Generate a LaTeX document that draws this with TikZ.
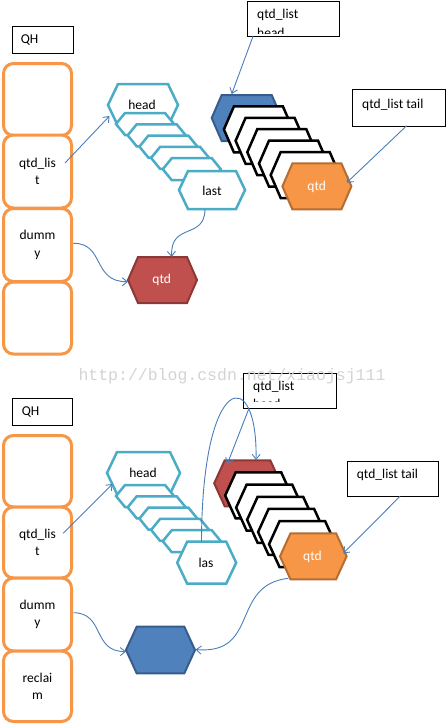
\documentclass[tikz,border=0pt]{standalone}
\usepackage{fontspec}
\setmainfont{Carlito}
\newfontfamily\wmfont{Liberation Mono}
\usetikzlibrary{arrows.meta}
\definecolor{orgbox}{HTML}{F79646}
\definecolor{cyanline}{HTML}{4BACC6}
\definecolor{bluefill}{HTML}{4F81BD}
\definecolor{blueline}{HTML}{385D8A}
\definecolor{redfill}{HTML}{C0504D}
\definecolor{redline}{HTML}{8C3836}
\definecolor{orgfill}{HTML}{F79646}
\definecolor{orgline}{HTML}{B66D31}
\definecolor{arrowc}{HTML}{4A7EBB}
\definecolor{wmgray}{RGB}{212,212,212}
\newcommand{\hexpath}[5]{(#1-#3,#2) -- (#1-#3+#5,#2-#4) -- (#1+#3-#5,#2-#4) -- (#1+#3,#2) -- (#1+#3-#5,#2+#4) -- (#1-#3+#5,#2+#4) -- cycle}
\begin{document}
\begin{tikzpicture}[x=1pt,y=-1pt,
  txt/.style={font=\fontsize{13.5}{17.5}\selectfont, inner sep=0pt},
  cyanhex/.style={draw=cyanline, line width=2.5pt, fill=white},
  blackhex/.style={draw=black, line width=2.5pt, fill=white},
  bluehex/.style={draw=blueline, line width=2pt, fill=bluefill},
  redhex/.style={draw=redline, line width=2pt, fill=redfill},
  orghex/.style={draw=orgline, line width=2pt, fill=orgfill},
  qbox/.style={draw=orgbox, line width=3pt, rounded corners=10pt, fill=white, minimum width=68pt, inner sep=0pt, align=center, font=\fontsize{13.5}{17.5}\selectfont},
  lbox/.style={draw=black, line width=0.8pt, fill=white, inner sep=0pt, anchor=north west},
  conn/.style={draw=arrowc, line width=0.9pt, -{Straight Barb[length=5pt,width=8pt]}}]
\useasboundingbox (0,0) rectangle (446,726);
\fill[white] (0,0) rectangle (446,726);

% ================= TOP =================
\node[lbox, minimum width=61pt, minimum height=27pt] (tqh) at (12,26) {};
\node[txt, anchor=west] (tqht) at (20.7,40) {QH};
\node[qbox, minimum height=72pt] (t1) at (37.5,99.5) {};
\node[qbox, minimum height=73pt] (t2) at (37.5,171.5) {qtd\_lis\\t};
\node[qbox, minimum height=73pt] (t3) at (37.5,245) {dumm\\y};
\node[qbox, minimum height=72pt] (t4) at (37.5,318) {};

% cyan stack
\draw[cyanhex] \hexpath{143}{105}{35}{21}{10};
\node[txt] (thead) at (142,105) {head};
\foreach \k in {0,...,4}{\pgfmathsetmacro\cx{145+11.7*\k}\pgfmathsetmacro\cy{124+11.3*\k}
  \draw[cyanhex] \hexpath{\cx}{\cy}{29}{11}{9};}
\draw[cyanhex] \hexpath{212}{190}{33}{19}{9};
\node[txt] (tlast) at (212,190.5) {last};

% black stack
\draw[bluehex] \hexpath{246.7}{118}{35}{23}{10};
\foreach \k in {1,...,5}{\pgfmathsetmacro\cx{246.7+11.7*\k}\pgfmathsetmacro\cy{118+11.4*\k}
  \draw[blackhex] \hexpath{\cx}{\cy}{34.5}{23}{10};}
\draw[orghex] \hexpath{316.9}{186.4}{34.5}{23}{10};
\node[txt, text=white] (tqo) at (316.7,187) {qtd};

% red qtd
\draw[redhex] \hexpath{162.5}{280}{34.5}{23}{10};
\node[txt, text=white] (tqr) at (161.7,280) {qtd};

% label boxes
\node[lbox, minimum width=92pt, minimum height=35.5pt] (thb) at (247,0.5) {};
\node[txt, anchor=base west] (thbt) at (257,18.5) {qtd\_list};
\begin{scope}
  \clip (248,1) rectangle (338,33.5);
  \node[txt, anchor=base west] (thbt2) at (257,37.5) {head};
\end{scope}
\node[lbox, minimum width=92.7pt, minimum height=36.4pt] (ttb) at (352.3,89.3) {};
\node[txt, anchor=west] (ttbt) at (362,104.5) {qtd\_list tail};

% connectors
\coordinate (a1s) at (65,163);   \coordinate (a1e) at (109.5,116);
\coordinate (lastb) at (205,209); \coordinate (redt) at (171.7,257);
\coordinate (dums) at (73.3,243.3); \coordinate (redl) at (128,281.7);
\coordinate (hbb) at (253,36.3); \coordinate (bluet) at (231.7,94);
\coordinate (tbb) at (406.7,125.7); \coordinate (orgr) at (346.7,182.7);
\draw[conn] (a1s) -- (a1e);
\draw[conn] (lastb) .. controls (205,240) and (170,222) .. (redt);
\draw[conn] (dums) .. controls (105,243) and (92,282) .. (redl);
\draw[conn] (hbb) -- (bluet);
\draw[conn] (tbb) -- (orgr);

% ================= BOTTOM =================
\node[lbox, minimum width=60pt, minimum height=27pt] (bqh) at (12,398) {};
\node[txt, anchor=west] (bqht) at (21.7,412.5) {QH};
\node[qbox, minimum height=71.5pt] (b1) at (37.5,471.25) {};
\node[qbox, minimum height=71pt] (b2) at (37.5,542.5) {qtd\_lis\\t};
\node[qbox, minimum height=73pt] (b3) at (37.5,614.5) {dumm\\y};
\node[qbox, minimum height=70.5pt] (b4) at (37.5,686.25) {reclai\\m};

% cyan stack
\draw[cyanhex] \hexpath{143.5}{473}{36.5}{21}{10};
\node[txt] (bhead) at (143,473) {head};
\foreach \k in {0,...,4}{\pgfmathsetmacro\cx{145+11.7*\k}\pgfmathsetmacro\cy{496+11.3*\k}
  \draw[cyanhex] \hexpath{\cx}{\cy}{29}{11}{9};}
\draw[cyanhex] \hexpath{206.7}{562.7}{29.5}{21}{10};
\node[txt] (blast) at (206,562.5) {las};

% black stack
\draw[redhex] \hexpath{247.5}{483.3}{33.3}{23}{10.5};
\foreach \k in {1,...,5}{\pgfmathsetmacro\cx{247.5+10.97*\k}\pgfmathsetmacro\cy{483.3+12.17*\k}
  \draw[blackhex] \hexpath{\cx}{\cy}{33.3}{23}{10.5};}
\draw[orghex] \hexpath{313.3}{556.3}{33.3}{23}{10.5};
\node[txt, text=white] (bqo) at (312.5,556.7) {qtd};

% blue hex
\draw[bluehex] \hexpath{160.5}{650}{34.5}{23.3}{10.7};

% label boxes
\node[lbox, minimum width=92.4pt, minimum height=35.6pt] (bhb) at (243.3,372.7) {};
\node[txt, anchor=base west] (bhbt) at (253,390.7) {qtd\_list};
\begin{scope}
  \clip (244,373.5) rectangle (335,401);
  \node[txt, anchor=base west] (bhbt2) at (253,408.8) {head};
\end{scope}
\node[lbox, minimum width=91pt, minimum height=35.3pt] (btb) at (347.3,460.7) {};
\node[txt, anchor=west] (btbt) at (356.7,475) {qtd\_list tail};

% connectors
\coordinate (c1s) at (63.3,533.3); \coordinate (c1e) at (112.5,484);
\coordinate (bdums) at (73.3,612.7); \coordinate (bluel) at (126,651.5);
\coordinate (last) at (201.5,541.7); \coordinate (bredt) at (256,460);
\coordinate (bhbb) at (249,408.3); \coordinate (bredtl) at (227.3,464);
\coordinate (btbb) at (400,496.3); \coordinate (borgr) at (343.3,553.3);
\coordinate (borgb) at (288.3,578.3); \coordinate (bluer) at (195.5,649.5);
\draw[conn] (c1s) -- (c1e);
\draw[conn] (bdums) .. controls (105,612.7) and (92,652) .. (bluel);
\draw[conn] (last) .. controls (202,370) and (258,365) .. (bredt);
\draw[conn] (bhbb) -- (bredtl);
\draw[conn] (btbb) -- (borgr);
\draw[conn] (borgb) .. controls (230,585) and (260,655) .. (bluer);

% watermark
\node[font=\wmfont\fontsize{16.5}{18}\selectfont, text=wmgray, anchor=base west, inner sep=0pt] (wm) at (78.3,380) {http://blog.csdn.net/xiaojsj111};
\end{tikzpicture}
\end{document}
